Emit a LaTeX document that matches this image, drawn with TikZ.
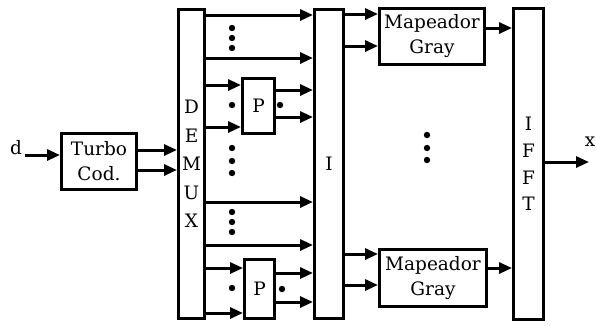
\documentclass[tikz,border=0pt]{standalone}
\usepackage{fontspec}
\setmainfont{DejaVu Serif}
\usepackage{tikz}
\usetikzlibrary{arrows.meta,positioning}
\tikzset{
  blk/.style={draw,line width=3pt,inner sep=0pt,align=center,anchor=north west,
              font=\fontsize{18.5}{25}\selectfont},
  vbar/.style={blk,font=\fontsize{18.5}{27}\selectfont},
  lbl/.style={font=\fontsize{18.5}{22}\selectfont},
  arr/.style={-{Triangle[length=13pt,width=11pt]},line width=3pt},
}

\begin{document}
\begin{tikzpicture}[x=1pt,y=-1pt]
  \useasboundingbox (0,0) rectangle (596,325);

  % blocks
  \node[blk,minimum width=75pt,minimum height=56pt]   (turbo) at (60,132)  {Turbo\\Cod.};
  \node[vbar,minimum width=26pt,minimum height=309pt,
        font=\fontsize{18.5}{28.5}\selectfont]        (demux) at (177,8)   {D\\E\\M\\U\\X};
  \node[blk,minimum width=32pt,minimum height=55pt]   (p1)    at (241,77)  {P};
  \node[blk,minimum width=30pt,minimum height=59pt]   (p2)    at (243,258) {P};
  \node[vbar,minimum width=29pt,minimum height=309pt] (ilv)   at (313,8)   {I};
  \node[blk,minimum width=105pt,minimum height=56pt]  (map1)  at (378,7)   {Mapeador\\Gray};
  \node[blk,minimum width=107pt,minimum height=57pt]  (map2)  at (378,248) {Mapeador\\Gray};
  \node[vbar,minimum width=30pt,minimum height=311pt,
        font=\fontsize{18.5}{26.7}\selectfont]        (ifft)  at (512,7)   {I\\F\\F\\T};

  \node[lbl] (d) at (16,148) {d};
  \node[lbl] (x) at (590,142) {x};
  \coordinate (xout) at (589,162);

  % connectors
  \draw[arr] (d.east |- 0,155) -- (turbo.west |- 0,155);
  \foreach \y in {150,170}
    \draw[arr] (turbo.east |- 0,\y) -- (demux.west |- 0,\y);
  \foreach \y in {15,58,202,245}
    \draw[arr] (demux.east |- 0,\y) -- (ilv.west |- 0,\y);
  \foreach \y in {85,127}
    \draw[arr] (demux.east |- 0,\y) -- (p1.west |- 0,\y);
  \foreach \y in {90,117}
    \draw[arr] (p1.east |- 0,\y) -- (ilv.west |- 0,\y);
  \foreach \y in {268,313}
    \draw[arr] (demux.east |- 0,\y) -- (p2.west |- 0,\y);
  \foreach \y in {273,302}
    \draw[arr] (p2.east |- 0,\y) -- (ilv.west |- 0,\y);
  \foreach \y in {14,46}
    \draw[arr] (ilv.east |- 0,\y) -- (map1.west |- 0,\y);
  \foreach \y in {254,285}
    \draw[arr] (ilv.east |- 0,\y) -- (map2.west |- 0,\y);
  \draw[arr] (map1.east |- 0,28) -- (ifft.west |- 0,28);
  \draw[arr] (map2.east |- 0,268) -- (ifft.west |- 0,268);
  \draw[arr] (ifft.east |- xout) -- (xout);

  % dots
  \foreach \y in {28,38,48,148,161,173,212,222,232}
    \fill (232,\y) circle (3.2pt);
  \foreach \p in {(232,105),(280,105),(232,288),(282,289),(427,135),(427,148),(427,160)}
    \fill \p circle (3.2pt);
\end{tikzpicture}
\end{document}
